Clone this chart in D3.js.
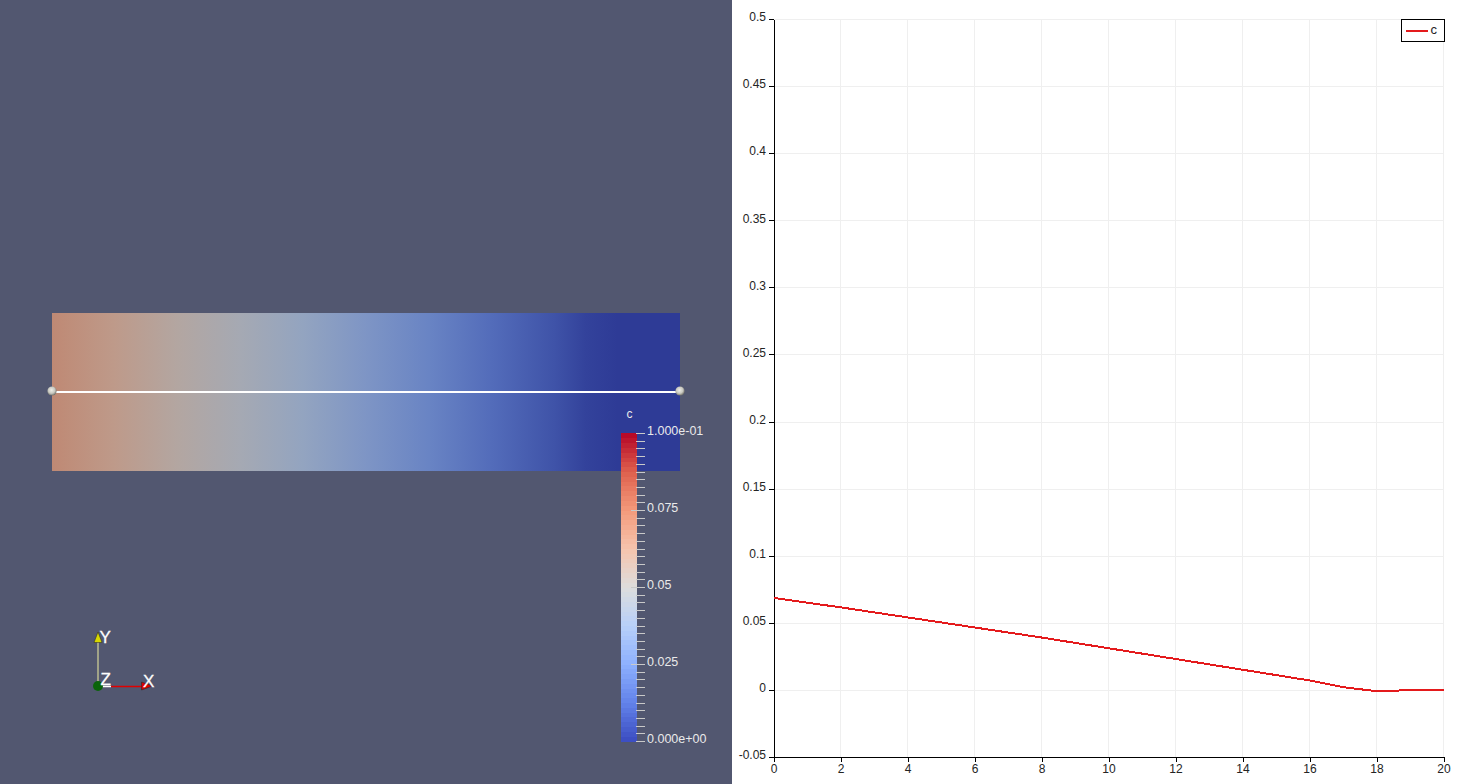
<!doctype html>
<html>
<head>
	<title>c over line</title>
	<script src="https://d3js.org/d3.v7.min.js"></script>
	<style>
	html, body { margin: 0; padding: 0; background: #fff; overflow: hidden; }
	svg { display: block; font-family: "Liberation Sans", Arial, sans-serif; }
	svg text { opacity: 0.99; }
	.axis text { font-size: 12px; fill: #222; font-family: "Liberation Sans", Arial, sans-serif; }
	.axis path, .axis line { stroke: #000; shape-rendering: crispEdges; }
	.grid line { stroke: #efefef; shape-rendering: crispEdges; }
	.bar-label { font-size: 12.5px; fill: #ececec; }
	</style>
</head>
<body>
<script>

// values
var lineX = [0, 2, 4, 6, 8, 10, 12, 14, 16, 17, 18, 18.6, 18.7, 20];
var lineC = [0.0685, 0.0615, 0.054, 0.0465, 0.039, 0.031, 0.023, 0.015, 0.007, 0.002, -0.001, -0.001, 0, 0];

var xTicks = [0, 2, 4, 6, 8, 10, 12, 14, 16, 18, 20];
var yTicks = [-0.05, 0, 0.05, 0.1, 0.15, 0.2, 0.25, 0.3, 0.35, 0.4, 0.45, 0.5];
var yTickLabels = ["-0.05", "0", "0.05", "0.1", "0.15", "0.2", "0.25", "0.3", "0.35", "0.4", "0.45", "0.5"];

// colour bar (cool to warm)
var barStops = [0, 0.0125, 0.025, 0.0375, 0.05, 0.0625, 0.075, 0.0875, 0.1];
var barColors = ["#3b4cc0", "#6282ea", "#8db0fe", "#b8d0f9", "#dddddd", "#f5c4ad", "#f49a7b", "#de604d", "#b40426"];
var barLabelled = [0, 0.025, 0.05, 0.075, 0.1];
var barLabels = ["0.000e+00", "0.025", "0.05", "0.075", "1.000e-01"];
var barLong = [0.025, 0.05, 0.075];
var barMinor = d3.range(0, 41).map(function(i) { return i * 0.0025; });
var barBands = d3.range(0, 64).map(function(i) { return i * 0.1 / 64; });

var svg = d3.select("body").append("svg")
	.attr("width", 1464)
	.attr("height", 784);

// left 3d view background
svg.append("rect")
	.attr("x", 0).attr("y", 0)
	.attr("width", 732).attr("height", 784)
	.attr("fill", "#525770");

var colour = d3.scaleLinear().domain(barStops).range(barColors);

// the lit surface is darker than the colour bar
var SHADE = 0.78;
function shaded(v) {
	var c = d3.rgb(colour(Math.max(v, 0)));
	return d3.rgb(c.r * SHADE, c.g * SHADE, c.b * SHADE).formatRgb();
}

// field rectangle
var fieldX = d3.scaleLinear().domain([0, 20]).range([52, 680]);
var defs = svg.append("defs");
var grad = defs.append("linearGradient").attr("id", "field");
lineX.forEach(function(x, i) {
	grad.append("stop")
		.attr("offset", (x / 20 * 100) + "%")
		.attr("stop-color", shaded(lineC[i]));
});
svg.append("rect")
	.attr("x", fieldX(0)).attr("y", 313)
	.attr("width", fieldX(20) - fieldX(0)).attr("height", 158)
	.attr("fill", "url(#field)");

// probe line and handles
svg.append("line")
	.attr("x1", fieldX(0)).attr("x2", fieldX(20))
	.attr("y1", 392).attr("y2", 392)
	.attr("stroke", "#fff").attr("stroke-width", 2);

var ball = defs.append("radialGradient").attr("id", "ball")
	.attr("cx", "45%").attr("cy", "40%").attr("r", "60%");
ball.append("stop").attr("offset", "0%").attr("stop-color", "#eeeee8");
ball.append("stop").attr("offset", "60%").attr("stop-color", "#c8c8c0");
ball.append("stop").attr("offset", "100%").attr("stop-color", "#6f6f68");
svg.selectAll(".ball").data([0, 20]).enter().append("circle")
	.attr("class", "ball")
	.attr("cx", function(d) { return fieldX(d); })
	.attr("cy", 391)
	.attr("r", 4.6)
	.attr("fill", "url(#ball)");

// colour bar
var barY = d3.scaleLinear().domain([0, 0.1]).range([741, 433]);
svg.selectAll(".band").data(barBands).enter().append("rect")
	.attr("class", "band")
	.attr("x", 621).attr("width", 16)
	.attr("y", function(d) { return barY(d + 0.1 / 64); })
	.attr("height", function(d) { return barY(d) - barY(d + 0.1 / 64) + 0.5; })
	.attr("fill", function(d) { return colour(d + 0.05 / 64); })
	.attr("shape-rendering", "crispEdges");

svg.selectAll(".minor").data(barMinor).enter().append("line")
	.attr("class", "minor")
	.attr("x1", 636).attr("x2", 645)
	.attr("y1", function(d) { return Math.round(barY(d)) + 0.5; })
	.attr("y2", function(d) { return Math.round(barY(d)) + 0.5; })
	.attr("stroke", "#c9c9c9");
svg.selectAll(".major").data(barLong).enter().append("line")
	.attr("class", "major")
	.attr("x1", 631).attr("x2", 637)
	.attr("y1", function(d) { return Math.round(barY(d)) + 0.5; })
	.attr("y2", function(d) { return Math.round(barY(d)) + 0.5; })
	.attr("stroke", "#c9c9c9");
svg.selectAll(".bar-label.tick").data(barLabelled).enter().append("text")
	.attr("class", "bar-label tick")
	.attr("x", 647)
	.attr("y", function(d) { return barY(d) + 2; })
	.text(function(d, i) { return barLabels[i]; });
svg.append("text")
	.attr("class", "bar-label")
	.attr("x", 629.5).attr("y", 418)
	.attr("text-anchor", "middle")
	.style("font-size", "12px")
	.text("c");

// orientation triad
svg.append("line").attr("x1", 98).attr("y1", 686).attr("x2", 98).attr("y2", 640)
	.attr("stroke", "#f0f0a0").attr("stroke-width", 1);
svg.append("path").attr("d", "M98,632L94,642.5L102,642.5Z")
	.attr("fill", "#d8d800").attr("stroke", "#222").attr("stroke-width", 0.5);
svg.append("line").attr("x1", 98).attr("y1", 686.5).attr("x2", 111).attr("y2", 686.5)
	.attr("stroke", "#fff").attr("stroke-width", 1.5);
svg.append("line").attr("x1", 111).attr("y1", 686.5).attr("x2", 142).attr("y2", 686.5)
	.attr("stroke", "#e00000").attr("stroke-width", 1.5);
svg.append("path").attr("d", "M152.5,686L141.5,682L141.5,690Z")
	.attr("fill", "#dd0000").attr("stroke", "#222").attr("stroke-width", 0.5);
svg.append("circle").attr("cx", 98).attr("cy", 686).attr("r", 5)
	.attr("fill", "#0a640a");
svg.selectAll(".triad").data([
		{t: "Y", x: 99.5, y: 643},
		{t: "Z", x: 100.5, y: 685},
		{t: "X", x: 143, y: 687}
	]).enter().append("text")
	.attr("class", "triad")
	.attr("x", function(d) { return d.x; })
	.attr("y", function(d) { return d.y; })
	.attr("fill", "#fff")
	.attr("stroke", "#fff")
	.attr("stroke-width", 0.3)
	.style("font-size", "17px")
	.text(function(d) { return d.t; });

// line chart on the right
var xScale = d3.scaleLinear().domain([0, 20]).range([774, 1444]);
var yScale = d3.scaleLinear().domain([-0.05, 0.5]).range([757, 19]);

svg.append("g").attr("class", "grid")
	.selectAll("line").data(xTicks.slice(1)).enter().append("line")
	.attr("x1", function(d) { return Math.floor(xScale(d) - 0.5) + 0.5; })
	.attr("x2", function(d) { return Math.floor(xScale(d) - 0.5) + 0.5; })
	.attr("y1", 19).attr("y2", 757);
svg.append("g").attr("class", "grid")
	.selectAll("line.h").data(yTicks.slice(1)).enter().append("line")
	.attr("x1", 774).attr("x2", 1444)
	.attr("y1", function(d) { return Math.round(yScale(d)) + 0.5; })
	.attr("y2", function(d) { return Math.round(yScale(d)) + 0.5; });

var xAxis = d3.axisBottom(xScale)
	.tickValues(xTicks)
	.tickSize(5)
	.tickSizeOuter(0)
	.tickPadding(2)
	.tickFormat(function(d) { return String(d); });
var yAxis = d3.axisLeft(yScale)
	.tickValues(yTicks)
	.tickSize(5)
	.tickSizeOuter(0)
	.tickPadding(3)
	.tickFormat(function(d, i) { return yTickLabels[i]; });

svg.append("g").attr("class", "x axis")
	.attr("transform", "translate(-0.5,757)")
	.call(xAxis);
var yG = svg.append("g").attr("class", "y axis")
	.attr("transform", "translate(774,0)")
	.call(yAxis);
yG.selectAll("text").attr("dy", "0.15em");

var line = d3.line()
	.x(function(d) { return xScale(d[0]); })
	.y(function(d) { return yScale(d[1]); });

svg.append("path")
	.datum(d3.zip(lineX, lineC))
	.attr("d", line)
	.attr("fill", "none")
	.attr("stroke", "#e41a1c")
	.attr("stroke-width", 2)
	.attr("shape-rendering", "crispEdges");

// legend
svg.append("rect")
	.attr("x", 1401.5).attr("y", 19.5)
	.attr("width", 43).attr("height", 21.5)
	.attr("fill", "#fff").attr("stroke", "#000")
	.attr("shape-rendering", "crispEdges");
svg.append("line")
	.attr("x1", 1406).attr("x2", 1428)
	.attr("y1", 31).attr("y2", 31)
	.attr("stroke", "#e41a1c").attr("stroke-width", 2);
svg.append("text")
	.attr("x", 1430.5).attr("y", 34)
	.attr("fill", "#222")
	.style("font-size", "13px")
	.text("c");

</script>
</body>
</html>
